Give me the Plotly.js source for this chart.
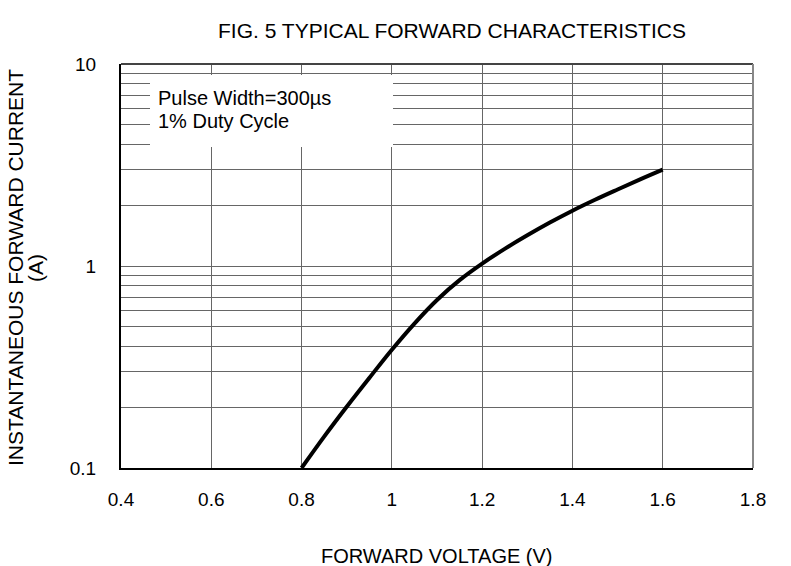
<!DOCTYPE html>
<html>
<head>
<meta charset="utf-8">
<script src="https://cdn.plot.ly/plotly-3.0.1.min.js"></script>
<style>html,body{margin:0;padding:0;background:#fff;}#chart{width:791px;height:566px;}</style>
</head>
<body>
<div id="chart"></div>
<script>
// Forward voltage (V) and instantaneous forward current (A)
var voltage = [0.80, 0.85, 0.90, 0.95, 1.00, 1.05, 1.10, 1.15, 1.20, 1.25, 1.30, 1.35, 1.40, 1.45, 1.50, 1.55, 1.60];
var current = [0.100, 0.143, 0.201, 0.279, 0.385, 0.519, 0.679, 0.851, 1.028, 1.216, 1.419, 1.641, 1.879, 2.128, 2.393, 2.685, 3.000];

var xTicks = [0.4, 0.6, 0.8, 1.0, 1.2, 1.4, 1.6, 1.8];
var xTickText = ['0.4', '0.6', '0.8', '1', '1.2', '1.4', '1.6', '1.8'];
var yGrid = [0.1,0.2,0.3,0.4,0.5,0.6,0.7,0.8,0.9,1,2,3,4,5,6,7,8,9,10];
var yGridText = ['0.1','','','','','','','','','1','','','','','','','','','10'];

var chartTitle = 'FIG. 5 TYPICAL FORWARD CHARACTERISTICS';
var xTitle = 'FORWARD VOLTAGE (V)';
var yTitleLine1 = 'INSTANTANEOUS FORWARD CURRENT';
var yTitleLine2 = '(A)';
var noteLine1 = 'Pulse Width=300\u00b5s';
var noteLine2 = '1% Duty Cycle';

var font = 'Arial, "Liberation Sans", sans-serif';

var trace = {
  x: voltage, y: current, type: 'scatter', mode: 'lines',
  line: {color: '#000', width: 4, shape: 'spline', smoothing: 1.0},
  hoverinfo: 'skip', showlegend: false
};

function px2x(p) { return (p - 121) / 632; }
function px2y(p) { return (468 - p) / 404; }

var layout = {
  width: 791, height: 566,
  margin: {l: 121, r: 38, t: 64, b: 98},
  paper_bgcolor: '#fff', plot_bgcolor: '#fff',
  font: {family: font, size: 19, color: '#000'},
  title: {text: chartTitle, font: {family: font, size: 21, color: '#000'},
          xref: 'paper', x: px2x(452), xanchor: 'center', yref: 'container', y: 1 - 31/566, yanchor: 'middle'},
  xaxis: {
    range: [0.4, 1.8], tickmode: 'array', tickvals: xTicks, ticktext: xTickText,
    showgrid: true, gridcolor: '#666', gridwidth: 1, zeroline: false,
    showline: true, linecolor: '#000', linewidth: 2, ticks: '', ticklabelstandoff: 13,
    tickfont: {family: font, size: 19, color: '#000'}, fixedrange: true
  },
  yaxis: {
    type: 'log', range: [-1, 1], tickmode: 'array', tickvals: yGrid, ticktext: yGridText,
    showgrid: true, gridcolor: '#666', gridwidth: 1, zeroline: false,
    showline: true, linecolor: '#000', linewidth: 2, ticks: '', ticklabelstandoff: 19,
    tickfont: {family: font, size: 19, color: '#000'}, fixedrange: true
  },
  shapes: [
    {type: 'line', xref: 'paper', yref: 'paper', x0: 0, x1: 1, y0: 1, y1: 1, line: {color: '#444', width: 2}},
    {type: 'line', xref: 'paper', yref: 'paper', x0: 1, x1: 1, y0: 0, y1: 1, line: {color: '#888', width: 2}},
    {type: 'rect', xref: 'paper', yref: 'paper', x0: px2x(150), x1: px2x(393),
     y0: px2y(147), y1: px2y(75), fillcolor: '#fff', line: {width: 0}, layer: 'above'}
  ],
  annotations: [
    {text: noteLine1, xref: 'paper', yref: 'paper', x: px2x(156), y: px2y(98),
     xanchor: 'left', yanchor: 'middle', align: 'left', showarrow: false,
     font: {family: font, size: 20, color: '#000'}},
    {text: noteLine2, xref: 'paper', yref: 'paper', x: px2x(156), y: px2y(121),
     xanchor: 'left', yanchor: 'middle', align: 'left', showarrow: false,
     font: {family: font, size: 20, color: '#000'}},
    {text: xTitle, xref: 'paper', yref: 'paper', x: px2x(437), y: px2y(556),
     xanchor: 'center', yanchor: 'middle', showarrow: false,
     font: {family: font, size: 20, color: '#000'}},
    {text: yTitleLine1, xref: 'paper', yref: 'paper', x: px2x(15), y: px2y(268),
     xanchor: 'center', yanchor: 'middle', textangle: -90, showarrow: false,
     font: {family: font, size: 21, color: '#000'}},
    {text: yTitleLine2, xref: 'paper', yref: 'paper', x: px2x(35), y: px2y(268),
     xanchor: 'center', yanchor: 'middle', textangle: -90, showarrow: false,
     font: {family: font, size: 21, color: '#000'}}
  ]
};

Plotly.newPlot('chart', [trace], layout, {displayModeBar: false, staticPlot: true});
</script>
</body>
</html>
